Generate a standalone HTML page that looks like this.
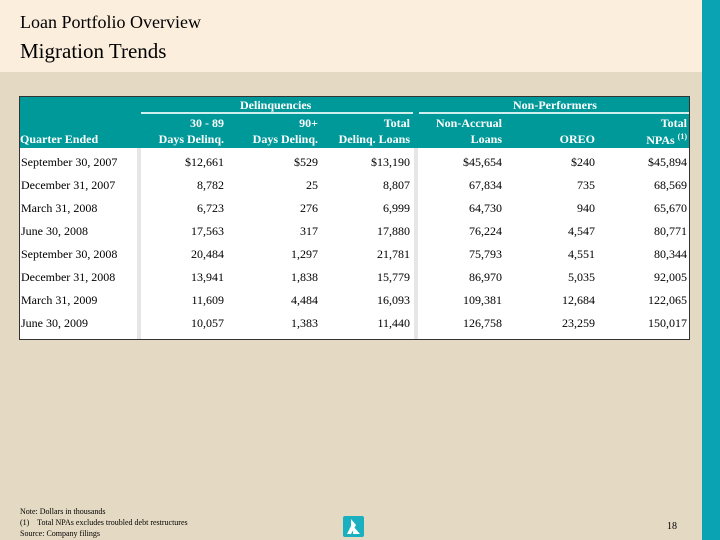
<!DOCTYPE html>
<html><head><style>
body{margin:0;width:720px;height:540px;position:relative;overflow:hidden;background:#e4d9c2;font-family:"Liberation Serif",serif;}
.top{position:absolute;left:0;top:0;width:702px;height:72px;background:#fbeedd;}
.stripe{position:absolute;left:702px;top:0;width:18px;height:540px;background:#0aa3b4;}
.t1{position:absolute;left:20px;top:12px;font-size:18px;color:#000;}
.t2{position:absolute;left:20px;top:39px;font-size:21px;color:#000;}
.tbl{position:absolute;left:19px;top:96px;width:671px;height:244px;background:#fff;border:1px solid #333;box-sizing:border-box;}
.hdr{position:absolute;left:0;top:0;width:669px;height:51px;background:#009999;}
.sep{position:absolute;top:51px;width:4px;height:191px;background:#e6e6e6;}
.h{position:absolute;color:#fff;font-weight:bold;font-size:12px;white-space:nowrap;}
.line{position:absolute;top:15px;height:2px;background:#cfeeee;}
.c{position:absolute;font-size:12px;white-space:nowrap;color:#000;}
.foot{position:absolute;left:20px;font-size:8px;color:#000;}
</style></head><body>
<div class="top"></div><div class="stripe"></div>
<div class="t1">Loan Portfolio Overview</div>
<div class="t2">Migration Trends</div>
<div class="tbl">
<div class="hdr">
<div class="h" style="left:220px;top:1px">Delinquencies</div>
<div class="h" style="left:493px;top:1px">Non-Performers</div>
<div class="line" style="left:121px;width:272px"></div>
<div class="line" style="left:399px;width:270px"></div>
<div class="h" style="right:465px;top:19px">30 - 89</div>
<div class="h" style="right:371px;top:19px">90+</div>
<div class="h" style="right:279px;top:19px">Total</div>
<div class="h" style="right:187px;top:19px">Non-Accrual</div>
<div class="h" style="right:2px;top:19px">Total</div>
<div class="h" style="left:0px;top:35px">Quarter Ended</div>
<div class="h" style="right:465px;top:35px">Days Delinq.</div>
<div class="h" style="right:371px;top:35px">Days Delinq.</div>
<div class="h" style="right:279px;top:35px">Delinq. Loans</div>
<div class="h" style="right:187px;top:35px">Loans</div>
<div class="h" style="right:94px;top:35px">OREO</div>
<div class="h" style="right:2px;top:35px">NPAs <sup style="font-size:8px">(1)</sup></div>
</div>
<div class="sep" style="left:117px"></div>
<div class="sep" style="left:394px"></div>
<div id="rows"></div>
</div>
<div class="foot" style="top:507px">Note: Dollars in thousands</div>
<div class="foot" style="top:518px">(1)&nbsp;&nbsp;&nbsp; Total NPAs excludes troubled debt restructures</div>
<div class="foot" style="top:529px">Source: Company filings</div>
<svg style="position:absolute;left:343px;top:516px" width="21" height="21"><rect width="21" height="21" rx="2" fill="#1ab0c0"/><path d="M8 3 L13 9 L8 18 Z M10 10 L17 18 L10 18 Z M4 18 L8 10 L8 18Z" fill="#fff"/></svg>
<div style="position:absolute;left:667px;top:521px;font-size:10px">18</div>
<script>
var d=[["September 30, 2007","$12,661","$529","$13,190","$45,654","$240","$45,894"],
["December 31, 2007","8,782","25","8,807","67,834","735","68,569"],
["March 31, 2008","6,723","276","6,999","64,730","940","65,670"],
["June 30, 2008","17,563","317","17,880","76,224","4,547","80,771"],
["September 30, 2008","20,484","1,297","21,781","75,793","4,551","80,344"],
["December 31, 2008","13,941","1,838","15,779","86,970","5,035","92,005"],
["March 31, 2009","11,609","4,484","16,093","109,381","12,684","122,065"],
["June 30, 2009","10,057","1,383","11,440","126,758","23,259","150,017"]];
var rt=[465,371,279,187,94,2],h="";
d.forEach(function(r,i){var t=58+i*23;
h+='<div class="c" style="left:1px;top:'+t+'px">'+r[0]+'</div>';
for(var j=1;j<7;j++)h+='<div class="c" style="right:'+rt[j-1]+'px;top:'+t+'px">'+r[j]+'</div>';});
document.getElementById('rows').innerHTML=h;
</script>
</body></html>
